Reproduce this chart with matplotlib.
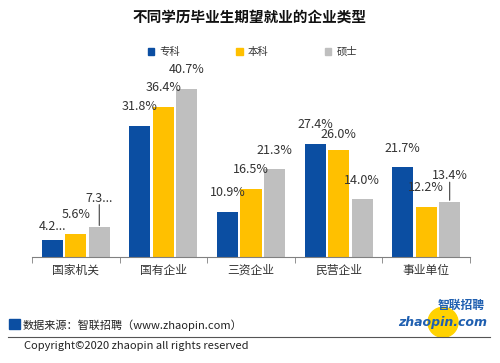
import matplotlib
matplotlib.use("Agg")
import matplotlib.pyplot as plt
from matplotlib.patches import Rectangle, Ellipse
from matplotlib.lines import Line2D
import numpy as np

plt.rcParams['font.family'] = ['Noto Sans CJK SC', 'DejaVu Sans']

categories = ['国家机关', '国有企业', '三资企业', '民营企业', '事业单位']
series_names = ['专科', '本科', '硕士']
zhuanke = [4.2, 31.8, 10.9, 27.4, 21.7]
benke = [5.6, 36.4, 16.5, 26.0, 12.2]
shuoshi = [7.3, 40.7, 21.3, 14.0, 13.4]
label_texts = [
    ['4.2...', '31.8%', '10.9%', '27.4%', '21.7%'],
    ['5.6%', '36.4%', '16.5%', '26.0%', '12.2%'],
    ['7.3...', '40.7%', '21.3%', '14.0%', '13.4%'],
]
colors = ['#0B4EA2', '#FFC000', '#BFBFBF']

fig = plt.figure(figsize=(5.0, 3.63), dpi=100)
ax = fig.add_axes([0.064, 0.292, 0.876, 0.512])

x = np.arange(len(categories))
w = 0.24
step = 0.268
values = [zhuanke, benke, shuoshi]
bars = []
for i, vals in enumerate(values):
    b = ax.bar(x + (i - 1) * step, vals, w, color=colors[i], label=series_names[i])
    bars.append(b)

# label offsets (points) above bar tops; a few are nudged like in the original
offsets = {(0, 0): 5, (2, 0): 16, (1, 3): 6, (2, 4): 14}
leaders = {(2, 0), (2, 4)}
for i, b in enumerate(bars):
    for j, rect in enumerate(b):
        off = offsets.get((i, j), 9)
        cx = rect.get_x() + rect.get_width() / 2
        h = rect.get_height()
        ax.annotate(label_texts[i][j], (cx, h), xytext=(0, off), textcoords='offset points',
                    ha='center', va='bottom', fontsize=9, color='#333333')
        if (i, j) in leaders:
            ax.annotate('', (cx, h), xytext=(0, off), textcoords='offset points',
                        arrowprops=dict(arrowstyle='-', color='#404040', lw=0.8,
                                        shrinkA=0, shrinkB=1))

ax.set_xlim(-0.5, len(categories) - 0.5)
ax.set_ylim(0, 45)
ax.set_xticks(x)
ax.set_xticklabels(categories, fontsize=8.5, color='#333333')
ax.tick_params(axis='x', which='major', length=0, pad=5)
ax.set_xticks(np.arange(-0.5, len(categories)), minor=True)
ax.tick_params(axis='x', which='minor', length=4, color='#808080', direction='out')
ax.set_yticks([])
for s in ['top', 'right', 'left']:
    ax.spines[s].set_visible(False)
ax.spines['bottom'].set_color('#808080')

fig.text(0.5, 0.953, '不同学历毕业生期望就业的企业类型', ha='center', va='center',
         fontsize=10.5, fontweight='bold', color='#111111')

leg = fig.legend(handles=[Rectangle((0, 0), 1, 1, color=c) for c in colors],
                 labels=series_names, loc='center', bbox_to_anchor=(0.505, 0.857),
                 ncol=3, frameon=False, fontsize=7.5, handlelength=0.6, handleheight=0.6,
                 columnspacing=5.4, handletextpad=0.5)
for t in leg.get_texts():
    t.set_color('#333333')

# footer
fig.patches.append(Rectangle((0.018, 0.095), 0.022, 0.026, transform=fig.transFigure,
                             color='#0B4EA2'))
fig.text(0.046, 0.104, '数据来源：智联招聘（www.zhaopin.com）', ha='left', va='center',
         fontsize=8, color='#222222')
fig.lines.append(Line2D([0.016, 0.98], [0.072, 0.072], transform=fig.transFigure,
                        color='#555555', lw=0.8))
fig.text(0.048, 0.048, 'Copyright©2020 zhaopin all rights reserved', ha='left', va='center',
         fontsize=8, color='#222222')

# logo
fig.patches.append(Ellipse((0.886, 0.112), 30 / 500, 30 / 363, transform=fig.transFigure,
                           color='#FFD200', zorder=1))
fig.text(0.922, 0.16, '智联招聘', ha='center', va='center', fontsize=8.5,
         fontweight='bold', color='#1F5FB0', style='italic', zorder=3)
fig.text(0.885, 0.112, 'zhaopin.com', ha='center', va='center', fontsize=9,
         fontweight='bold', color='#1F5FB0', style='italic', zorder=3,
         family=['DejaVu Sans'])

fig.savefig('out.png', dpi=100, facecolor='white')
